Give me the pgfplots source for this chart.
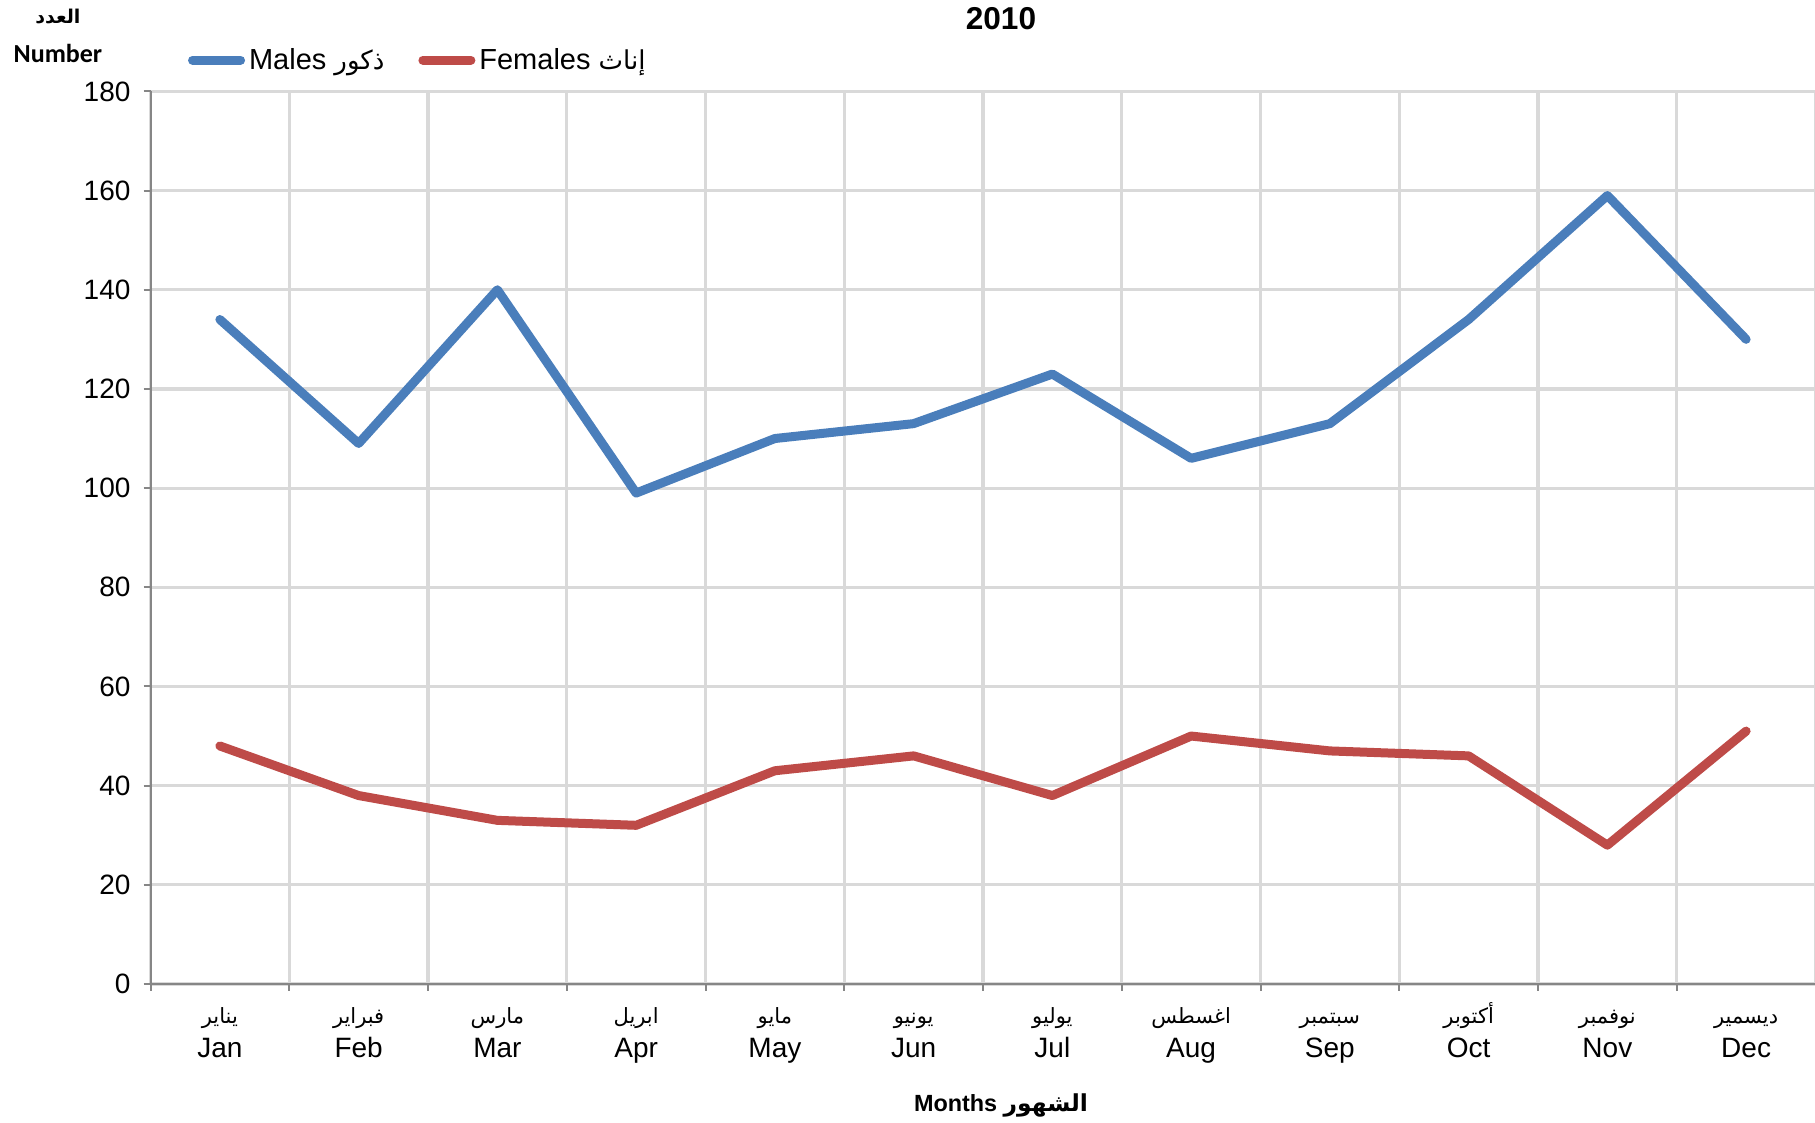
\documentclass[border=0pt]{standalone}
\usepackage{fontspec}
\usepackage{pgfplots}
\pgfplotsset{compat=1.18}
\setmainfont{Liberation Sans}
\newfontfamily\arabicfont[Script=Arabic]{DejaVu Sans}
\newfontfamily\calibri{Carlito}
\TeXXeTstate=1
\definecolor{males}{HTML}{4A7EBB}
\definecolor{females}{HTML}{BE4B48}
\definecolor{gridgray}{HTML}{D9D9D9}
\definecolor{axisgray}{HTML}{868686}
% month label: arabic line over english line, fixed struts so all labels line up
\newcommand{\mon}[2]{{\arabicfont\fontsize{10.5}{12}\selectfont\rule[-4pt]{0pt}{15pt}\beginR #1\endR}\\\rule{0pt}{11pt}#2}
\newcommand{\arL}[1]{{\arabicfont\fontsize{13}{15}\selectfont\beginR #1\endR}}

\begin{document}
\begin{tikzpicture}
\useasboundingbox (0,0) rectangle (907.5pt,561.5pt);
\begin{axis}[
    at={(75.25pt,69.5pt)}, anchor=south west,
    width=832.5pt, height=446.3pt, scale only axis,
    xmin=-0.5, xmax=11.5, ymin=0, ymax=180,
    axis lines*=left,
    axis line style={axisgray, line width=1pt},
    ytick={0,20,...,180},
    xtick={0,...,11},
    xticklabels={
        {\mon{يناير}{Jan}}, {\mon{فبراير}{Feb}}, {\mon{مارس}{Mar}},
        {\mon{ابريل}{Apr}}, {\mon{مايو}{May}}, {\mon{يونيو}{Jun}},
        {\mon{يوليو}{Jul}}, {\mon{اغسطس}{Aug}}, {\mon{سبتمبر}{Sep}},
        {\mon{أكتوبر}{Oct}}, {\mon{نوفمبر}{Nov}}, {\mon{ديسمير}{Dec}}},
    minor xtick={-0.5,0.5,...,11.5},
    major x tick style={draw=none},
    tick align=outside,
    major tick length=3.5pt, minor tick length=3.5pt,
    tick style={axisgray, line width=1pt},
    ymajorgrids=true, xminorgrids=true, xmajorgrids=false,
    grid style={gridgray, line width=1.6pt},
    minor grid style={gridgray, line width=1.6pt},
    /pgf/number format/assume math mode=true,
    ticklabel style={font=\fontsize{14}{17}\selectfont},
    yticklabel style={xshift=-3pt},
    xticklabel style={align=center, anchor=north, yshift=-1.5pt},
    legend style={draw=none, fill=none, at={(0.0187,1.035)}, anchor=west,
        font=\fontsize{14.5}{17}\selectfont,
        /tikz/every even column/.append style={column sep=15pt}},
    legend columns=2,
    legend cell align=left,
    legend image code/.code={\draw[#1, line cap=round] (0pt,0pt) -- (24pt,0pt);},
    every axis plot/.append style={line width=4.5pt, line join=round, line cap=round},
    clip=false,
]
\addplot[males] coordinates {
    (0,134) (1,109) (2,140) (3,99) (4,110) (5,113)
    (6,123) (7,106) (8,113) (9,134) (10,159) (11,130)
};
\addlegendentry{Males \arL{ذكور}}
\addplot[females] coordinates {
    (0,48) (1,38) (2,33) (3,32) (4,43) (5,46)
    (6,38) (7,50) (8,47) (9,46) (10,28) (11,51)
};
\addlegendentry{Females \arL{إناث}}

\node[font=\fontsize{15.8}{19}\selectfont\bfseries] at (rel axis cs:0.5108,1.0818) {2010};
\node[font=\fontsize{11.7}{14}\selectfont\bfseries] at (rel axis cs:0.5108,-0.1356)
    {Months {\arabicfont\bfseries\beginR الشهور\endR}};
\node[font=\calibri\fontsize{13}{15}\selectfont\bfseries] at (rel axis cs:-0.0556,1.043) {Number};
\node[font=\arabicfont\fontsize{9.5}{12}\selectfont\bfseries] at (rel axis cs:-0.0556,1.0834) {\beginR العدد\endR};
\end{axis}
\end{tikzpicture}
\end{document}
